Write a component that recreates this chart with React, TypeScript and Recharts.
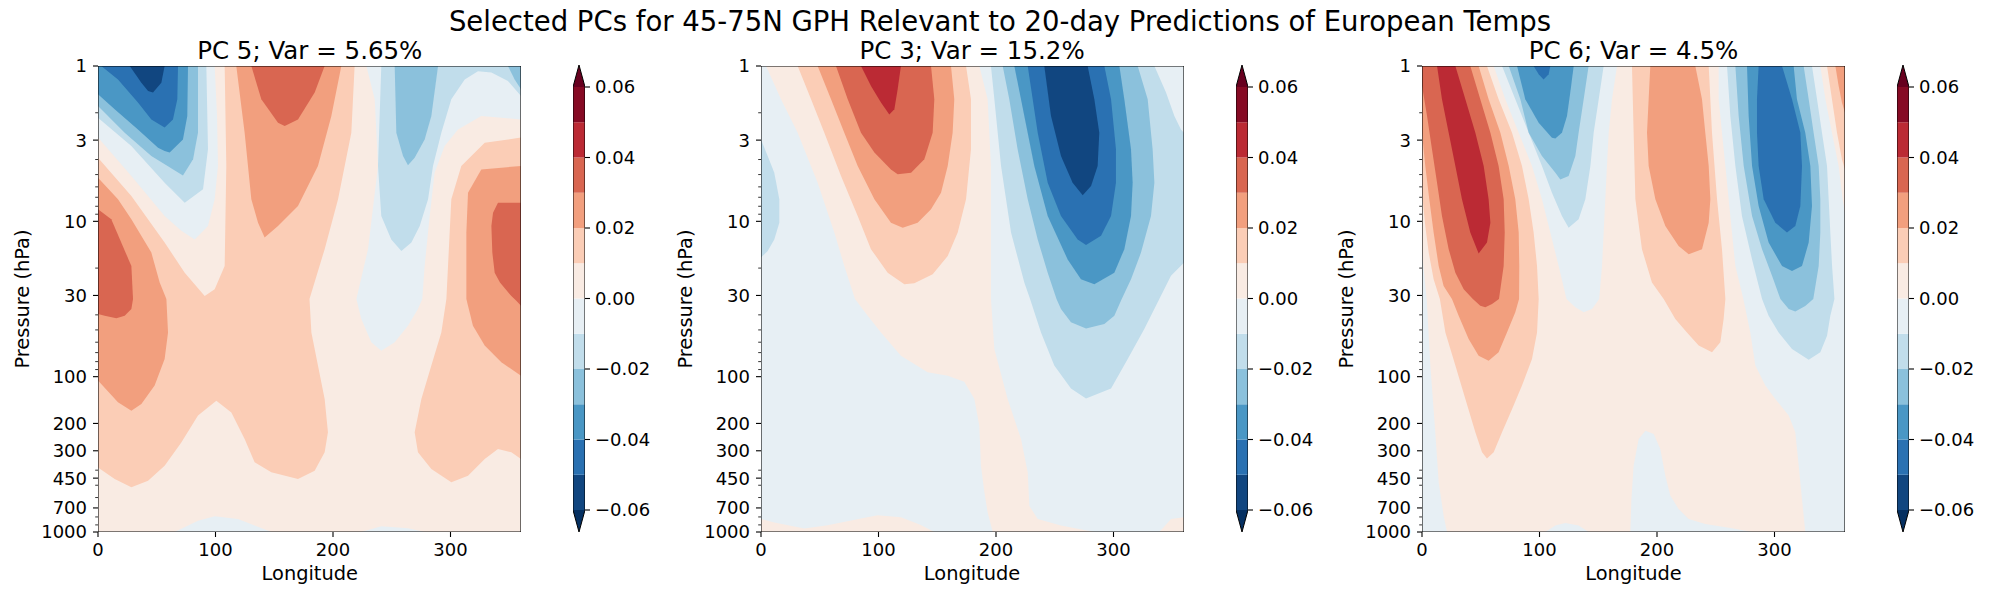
import { Scatter, ScatterChart, XAxis, YAxis } from "recharts";

// ---- data ---------------------------------------------------------------
// Contour levels of the filled plot (RdBu_r, extend both)
const LEVELS = [-0.06, -0.05, -0.04, -0.03, -0.02, -0.01, 0, 0.01, 0.02, 0.03, 0.04, 0.05, 0.06];
const BAND_COLORS = [
  "#114680", "#2a71b2", "#4a97c5", "#8bc1dc", "#c1ddeb", "#e7eff4",
  "#f9ebe3", "#fbcdb6", "#f29f7e", "#d96651", "#bb2a34", "#860a24",
];
const UNDER_COLOR = "#053061";
const OVER_COLOR = "#67001f";
const CBAR_TICKS = [-0.06, -0.04, -0.02, 0, 0.02, 0.04, 0.06];

const LON_TICKS = [0, 100, 200, 300];
const P_MAJOR = [1, 3, 10, 30, 100, 200, 300, 450, 700, 1000];
const P_MINOR = [2, 4, 5, 6, 7, 8, 9, 20, 40, 50, 60, 70, 80, 90, 400, 500, 600, 800, 900];

const TITLES = ["PC 5; Var = 5.65%", "PC 3; Var = 15.2%", "PC 6; Var = 4.5%"];
const SUPTITLE = "Selected PCs for 45-75N GPH Relevant to 20-day Predictions of European Temps";

type Pt = [number, number]; // [longitude, pressure hPa]
type Layer = [number, Pt[]]; // [lower level of the band, region outline]

const FULL_DOMAIN: Pt[] = [[0, 1], [360, 1], [360, 1000], [0, 1000]];

// PC 5: background band 0..0.01; regions are "value below / above" sets
const PC5_BASE = 0;
const PC5_NEG: Layer[] = [
  [-0.01, [[0, 1], [99.3, 1], [101.3, 2.1], [102.1, 4.4], [99.3, 7.21], [93.6, 10.7], [82.3, 13.1], [70.9, 11.5], [56.7, 9.24], [28.4, 5.11], [0, 2.89]]],
  [-0.01, [[228.4, 1], [235.5, 1.64], [238.3, 4.4], [229.8, 15.1], [219.9, 31.6], [224.1, 42.5], [232.6, 60.1], [241.1, 68], [252.5, 60.1], [263.8, 47], [272.3, 36.7], [276, 31.6], [278, 19.4], [282.3, 9.24], [286.5, 4.86], [295, 3.27], [306.4, 2.56], [326.2, 2.1], [360, 2.21], [360, 1]]],
  [-0.01, [[65.2, 1000], [85.1, 845], [99.3, 792], [119.1, 825], [147.5, 1000]]],
  [-0.01, [[224.1, 1000], [241.1, 919], [263.8, 946], [278, 1000]]],
  [-0.02, [[0, 1], [92.2, 1], [93.6, 3.44], [89.4, 6.22], [73.8, 7.59], [56.7, 5.64], [28.4, 3.27], [0, 2.15]]],
  [-0.02, [[241.1, 1], [238.3, 4.4], [241.1, 9.24], [249.6, 13.1], [258.2, 15.5], [266.7, 13.7], [273.8, 10.7], [280.9, 7.21], [285.1, 4.4], [292.2, 2.69], [300.7, 1.64], [312.1, 1.22], [323.4, 1.08], [334.8, 1.1], [348.9, 1.25], [360, 1.56], [360, 1]]],
  [-0.03, [[0, 1], [85.1, 1], [85.1, 2.69], [80.9, 3.99], [72.3, 5.06], [45.4, 3.8], [22.7, 2.69], [0, 1.81]]],
  [-0.03, [[252.5, 1], [253.9, 2.69], [259.6, 3.8], [263.8, 4.36], [269.5, 3.89], [278, 2.97], [283.7, 2.1], [289.4, 1]]],
  [-0.03, [[348.9, 1], [354.6, 1.22], [360, 1.41], [360, 1]]],
  [-0.04, [[0, 1], [76.6, 1], [76, 2.1], [72.3, 2.97], [61, 3.61], [56.7, 3.53], [51.1, 3.36], [34, 2.56], [14.2, 1.9], [0, 1.52]]],
  [-0.05, [[2.8, 1], [68.1, 1], [67.5, 1.64], [63.8, 2.21], [56.7, 2.49], [45.4, 2.21], [34, 1.72], [17, 1.22]]],
  [-0.06, [[27, 1], [56.7, 1], [53.9, 1.28], [46.8, 1.48], [42.6, 1.45], [36.9, 1.28]]],
];
const PC5_POS: Layer[] = [
  [0.01, [[107.8, 1], [109.2, 4.4], [107.8, 19.4], [99.3, 27.4], [90.8, 30.3], [73.8, 21.4], [56.7, 13.7], [28.4, 6.87], [0, 3.89], [0, 384], [14.2, 456], [28.4, 516], [42.6, 467], [56.7, 374], [70.9, 265], [85.1, 178], [100.7, 143], [113.5, 170], [124.8, 252], [133.3, 356], [147.5, 413], [170.2, 456], [184.4, 403], [192.9, 307], [195.7, 228], [192.9, 139], [187.2, 84.9], [181.6, 51.9], [180, 31.6], [192.9, 15.1], [204.3, 7.21], [215.6, 2.69], [218.4, 1]]],
  [0.01, [[360, 2.89], [329.1, 3.12], [309.2, 4.4], [300.7, 7.21], [296.5, 31.6], [292.2, 51.9], [283.7, 84.9], [275.2, 139], [269.5, 228], [272.3, 307], [283.7, 393], [300.7, 479], [314.9, 434], [329.1, 339], [340.4, 292], [351.8, 307], [360, 339]]],
  [0.02, [[0, 5.24], [17, 7.21], [28.4, 9.71], [45.4, 15.9], [52.5, 24.8], [58.2, 31.6], [59.6, 51.9], [56.7, 77], [48.2, 114], [36.9, 150], [28.4, 166], [17, 146], [0, 106]]],
  [0.02, [[117.7, 1], [124.8, 2.69], [130.5, 7.21], [136.2, 10.2], [141.8, 12.7], [153.2, 10.7], [170.2, 7.96], [187.2, 4.4], [198.6, 2.1], [207.1, 1]]],
  [0.02, [[360, 4.4], [326.2, 4.63], [314.9, 6.54], [313.5, 11.8], [313.5, 31.6], [319.1, 47], [329.1, 63.1], [343.3, 80.9], [360, 98.6]]],
  [0.03, [[0, 8.37], [11.3, 9.71], [28.4, 19.4], [29.8, 31.6], [28.4, 36.7], [22.7, 40.5], [15.6, 42.1], [5.7, 40.5], [0, 39.5]]],
  [0.03, [[130.5, 1], [139, 1.64], [153.2, 2.32], [158.9, 2.43], [170.2, 2.21], [184.4, 1.48], [192.9, 1]]],
  [0.03, [[360, 7.59], [340.4, 7.59], [336.2, 8.8], [334.8, 10.7], [335.6, 15.9], [337.6, 21.4], [342.1, 24.8], [351.8, 30.3], [356, 32.4], [360, 34.9]]],
];

// PC 3: background band -0.01..0
const PC3_BASE = -0.01;
const PC3_POS: Layer[] = [
  [0, [[4.3, 1], [17, 1.64], [31.2, 2.69], [48.2, 5.64], [62.4, 11.8], [70.9, 19.4], [80, 31.6], [90.8, 40.5], [102.1, 51.9], [119.1, 73.3], [141.8, 93.8], [158.9, 98.6], [173, 108], [181.6, 139], [185.8, 207], [187.2, 374], [190.1, 555], [192.9, 749], [197.2, 1000], [283.7, 1000], [255.3, 909], [235.5, 825], [228.4, 679], [227, 413], [221.3, 252], [209.9, 139], [198.6, 66.4], [195.7, 31.6], [195.7, 4.4], [192.9, 1.64], [185.8, 1]]],
  [0, [[0, 825], [11.3, 870], [36.9, 950], [56.7, 905], [85.1, 820], [99.3, 779], [119.1, 805], [136, 900], [147.5, 1000], [0, 1000]]],
  [0, [[339, 1000], [349, 825], [360, 805], [360, 1000]]],
  [0.01, [[31.2, 1], [42.6, 1.64], [53.9, 2.69], [68.1, 5.11], [82.3, 9.24], [93.6, 15.1], [107.8, 21.4], [122, 25.4], [130.5, 25], [146.1, 21.9], [158.9, 16.7], [167.4, 11.8], [174.5, 7.21], [178.7, 3.44], [178.7, 1.64], [174.5, 1]]],
  [0.02, [[48.2, 1], [59.6, 1.64], [70.9, 2.69], [82.3, 4.4], [96.5, 7.21], [110.6, 10.2], [120.6, 11], [133.3, 10.2], [144.7, 8.37], [153.2, 6.54], [158.9, 4.4], [163.1, 2.69], [164.5, 1.64], [161.7, 1]]],
  [0.03, [[63.8, 1], [73.8, 1.64], [85.1, 2.69], [96.5, 3.61], [110.6, 4.63], [116.3, 4.98], [127.7, 4.86], [139, 3.99], [146.1, 2.69], [147.5, 1.64], [144.7, 1]]],
  [0.04, [[85.1, 1], [93.6, 1.345], [102.1, 1.72], [109.2, 2.05], [113.5, 1.9], [116.3, 1.41], [119.1, 1]]],
];
const PC3_NEG: Layer[] = [
  [-0.02, [[0, 2.97], [5.7, 3.8], [11.3, 4.86], [15.6, 7.21], [15.6, 10.2], [11.3, 13.1], [5.7, 15.5], [0, 17.1]]],
  [-0.02, [[195.7, 1], [198.6, 1.64], [204.3, 4.4], [212.8, 11.8], [224.1, 24.8], [229, 31.6], [238.3, 51.9], [249.6, 84.9], [263.8, 119], [276.6, 138], [297.9, 119], [312.1, 77], [326.2, 49.4], [339, 31.6], [348.9, 22.4], [360, 18.5], [360, 2.69], [357.4, 2.56], [351.8, 2.1], [344.7, 1.48], [334.8, 1]]],
  [-0.03, [[205.7, 1], [211.3, 1.64], [218.4, 3.44], [227, 7.21], [235.5, 13.1], [244, 21.4], [251.5, 31.6], [255.3, 36.7], [263.8, 44.7], [276.6, 48.9], [292.2, 45.8], [300.7, 40.5], [307, 31.6], [314.9, 23.6], [323.4, 15.9], [331.9, 9.24], [334.8, 5.64], [333.3, 3.44], [329.1, 1.64], [320.6, 1]]],
  [-0.04, [[215.6, 1], [224.1, 2.1], [232.6, 4.4], [244, 9.24], [261, 17.6], [272.3, 23.6], [283.7, 25.4], [300.7, 21.4], [309.2, 15.1], [314.9, 9.24], [316.3, 5.64], [314.9, 3.44], [309.2, 1.64], [305, 1]]],
  [-0.05, [[227, 1], [235.5, 2.69], [244, 5.64], [255.3, 9.24], [269.5, 13.1], [276.6, 14.2], [289.4, 12.4], [297.9, 9.24], [302.1, 5.64], [302.1, 3.44], [297.9, 1.64], [292.2, 1]]],
  [-0.06, [[241.1, 1], [246.8, 2.1], [255.3, 3.8], [265.2, 5.64], [273.8, 6.8], [280.9, 5.92], [286.5, 4.4], [287.9, 2.69], [283.7, 1.64], [278, 1]]],
];

// PC 6: background band 0..0.01
const PC6_BASE = 0;
const PC6_NEG: Layer[] = [
  [-0.01, [[0, 15.9], [2.3, 23.6], [4, 31.6], [7.1, 84.9], [11.3, 228], [14.2, 479], [18.4, 785], [21.3, 1000], [0, 1000]]],
  [-0.01, [[61, 1], [70.9, 1.64], [82.3, 2.69], [93.6, 4.4], [102.1, 7.21], [109.2, 11.8], [116.3, 19.4], [123, 31.6], [130.5, 35.8], [137.6, 38.5], [144.7, 36.7], [150.8, 31.6], [153.2, 19.4], [154.6, 11.8], [156, 7.21], [157.4, 4.4], [158.9, 2.69], [161.7, 1.64], [166, 1]]],
  [-0.01, [[252.5, 1], [252.5, 1.64], [255.3, 2.69], [258.2, 4.4], [261, 7.21], [263.8, 11.8], [266.7, 19.4], [273.5, 31.6], [279.4, 51.9], [283.7, 84.9], [292.2, 114], [300.7, 139], [312.1, 178], [317.7, 228], [320.6, 374], [323.4, 615], [326.2, 1000], [360, 1000], [360, 8.8], [358, 7.21], [354.6, 4.4], [348.9, 2.69], [343.3, 1.64], [339, 1]]],
  [-0.01, [[177.3, 1000], [178.2, 615], [180.1, 374], [184.4, 252], [190.1, 223], [197.2, 234], [202.8, 292], [207.1, 434], [211.3, 583], [218.4, 711], [227, 825], [241.1, 889], [263.8, 946], [280.9, 1000]]],
  [-0.01, [[105, 1000], [113.5, 909], [122, 875], [133.3, 909], [141.8, 1000]]],
  [-0.02, [[68.1, 1], [79.4, 1.64], [90.8, 2.69], [102.1, 4.4], [110.6, 6.54], [119.1, 9.24], [124.8, 11], [133.3, 9.71], [139, 7.21], [143.3, 4.4], [146.1, 2.69], [150.4, 1.64], [154.6, 1]]],
  [-0.02, [[259.6, 1], [262.4, 2.1], [266.7, 4.4], [272.3, 9.24], [280.9, 17.6], [289.4, 31.6], [295, 40.5], [303.5, 51.9], [314.9, 66.4], [329.1, 77.7], [339, 69.7], [344.7, 54.5], [347.5, 40.5], [351, 31.6], [349, 19.4], [347.5, 11.8], [346.1, 7.21], [344.7, 4.4], [340.4, 2.69], [336.2, 1.64], [331.9, 1]]],
  [-0.03, [[73.8, 1], [83.7, 1.64], [90.8, 2.69], [102.1, 3.8], [113.5, 4.86], [117.7, 5.37], [124.8, 5.11], [130.5, 3.8], [133.3, 2.69], [137.6, 1.64], [141.8, 1]]],
  [-0.03, [[266.7, 1], [269.5, 2.1], [273.8, 4.4], [280.9, 9.24], [289.4, 15.1], [297.9, 22.4], [305, 31.6], [312.1, 36.7], [317.7, 38.1], [326.2, 35.1], [333, 31.6], [337.6, 19.4], [339, 11.8], [339, 7.21], [337.6, 4.4], [333.3, 2.69], [329.1, 1.64], [324.8, 1]]],
  [-0.04, [[80.9, 1], [87.9, 1.64], [99.3, 2.32], [110.6, 2.9], [113.5, 2.93], [119.1, 2.69], [123.4, 2.1], [126.2, 1.48], [129.1, 1]]],
  [-0.04, [[276.6, 1], [278, 2.1], [280.9, 4.4], [286.5, 7.96], [295, 13.7], [306.4, 19.4], [314.9, 20.9], [323.4, 19.4], [329.1, 13.7], [331.9, 7.96], [330.5, 4.4], [326.2, 2.69], [319.1, 1.64], [316.3, 1]]],
  [-0.05, [[95, 1], [99.3, 1.13], [103.5, 1.22], [107.8, 1.13], [109.2, 1]]],
  [-0.05, [[286.5, 1], [285.1, 1.64], [285.1, 2.69], [286.5, 4.4], [290.8, 7.21], [300.7, 10.2], [310.6, 11.8], [317.7, 10.7], [322, 7.96], [323.4, 4.4], [322, 2.69], [314.9, 1.64], [306.4, 1]]],
];
const PC6_POS: Layer[] = [
  [0.01, [[0, 1], [55.3, 1], [65.2, 1.64], [76.6, 2.69], [85.1, 4.4], [90.8, 7.21], [95, 11.8], [97.9, 19.4], [99.3, 31.6], [97.9, 51.9], [93.6, 77], [85.1, 114], [76.6, 162], [68.1, 228], [61, 307], [55.3, 336], [51.1, 307], [45.4, 228], [36.9, 139], [28.4, 84.9], [19.9, 51.9], [15.2, 31.6], [9.9, 23.6], [5.7, 15.9], [2.8, 10.7], [0, 6.54]]],
  [0.01, [[178.7, 1], [180.1, 2.69], [181.6, 7.21], [187.2, 15.1], [195.7, 24.8], [205.7, 31.6], [215.6, 42.5], [225.5, 51.9], [235.5, 63.1], [246.8, 69.7], [253.9, 60.1], [256.7, 42.5], [258.2, 31.6], [255.3, 15.1], [251.1, 7.21], [246.8, 2.69], [244, 1]]],
  [0.01, [[344.7, 1], [348.9, 1.64], [353.2, 2.69], [357.4, 3.99], [360, 4.63], [360, 1]]],
  [0.02, [[0, 1], [48.2, 1], [56.7, 1.64], [66.7, 2.69], [73.8, 4.4], [79.4, 7.21], [82.3, 11.8], [82.8, 19.4], [82.6, 31.6], [79.4, 38.5], [72.3, 51.9], [65.2, 69.7], [56.7, 78.9], [48.2, 73.3], [39.7, 57.2], [31.2, 40.5], [25.5, 31.6], [18.4, 26.1], [14.2, 19.4], [9.9, 11.8], [6.2, 7.21], [2.8, 4.4], [0, 2.69]]],
  [0.02, [[194.3, 1], [192.9, 1.64], [191.5, 2.69], [192.9, 4.4], [198.6, 7.21], [207.1, 10.7], [218.4, 14.4], [227, 16.3], [238.3, 15.1], [244, 10.2], [245.4, 7.21], [244, 4.4], [241.1, 2.69], [238.3, 1.64], [232.6, 1]]],
  [0.02, [[351.8, 1], [354.6, 1.345], [357.4, 1.72], [360, 2], [360, 1]]],
  [0.03, [[0, 1], [41.1, 1], [49.6, 1.64], [58.2, 2.69], [65.2, 4.4], [69.5, 7.21], [70.4, 11.8], [69.5, 19.4], [65.5, 31.6], [59.6, 34.1], [53.9, 35.8], [49.6, 34.9], [43.3, 31.6], [35.5, 27.4], [28.4, 21.4], [22.7, 15.1], [17, 9.24], [12.8, 5.64], [8.5, 3.44], [4.3, 2.1], [0, 1.34]]],
  [0.04, [[12.8, 1], [17, 1.64], [22.7, 2.69], [28.4, 4.4], [34, 7.21], [41.1, 11.8], [48.2, 16.1], [55.3, 13.7], [58.2, 10.2], [56.7, 7.21], [52.5, 4.4], [45.4, 2.69], [36.9, 1.64], [28.4, 1]]],
];

// ---- layout -------------------------------------------------------------
const FONT = "'DejaVu Sans', sans-serif";
const FIG_W = 2000;
const FIG_H = 600;
const PLOT_TOP = 66;
const PLOT_BOTTOM = 532;
const PLOT_W = 423;
const Y_AXIS_W = 90;
const RIGHT_PAD = 10;
const PANEL_LEFTS = [98.3, 760.6, 1422];
const CB_OFFSET = 475;
const CB_W = 12;
const CB_AXIS_W = 80;
const CB_TOP = 65;
const CB_EXT = 0.06 + 0.12 * 0.052;

const PANELS = [
  { base: PC5_BASE, layers: [...PC5_NEG, ...PC5_POS] },
  { base: PC3_BASE, layers: [...PC3_POS, ...PC3_NEG] },
  { base: PC6_BASE, layers: [...PC6_NEG, ...PC6_POS] },
];

const colorOf = (lo: number) => BAND_COLORS[Math.round((lo - LEVELS[0]) * 100)];

const noMarker = () => <g />;

function polygon(key: string, pts: Pt[], fill: string, stroke = "none", strokeWidth = 0) {
  return (
    <Scatter
      key={key}
      data={pts.map(([x, y]) => ({ x, y }))}
      line={{ fill, stroke, strokeWidth }}
      lineJointType="linearClosed"
      shape={noMarker}
      legendType="none"
      isAnimationActive={false}
    />
  );
}

function PressureTick(props: any) {
  const { x, y, payload } = props;
  const major = P_MAJOR.includes(payload.value);
  return (
    <g>
      <line x1={x - (major ? 5 : 2.8)} x2={x} y1={y} y2={y} stroke="#000" strokeWidth={major ? 1.1 : 0.8} />
      {major && (
        <text x={x - 11} y={y} dy="0.36em" textAnchor="end" fontSize={18} fontFamily={FONT} fill="#000">
          {payload.value}
        </text>
      )}
    </g>
  );
}

function Panel({ plotLeft, base, layers }: { plotLeft: number; base: number; layers: Layer[] }) {
  return (
    <div style={{ position: "absolute", left: plotLeft - Y_AXIS_W, top: 0 }}>
      <ScatterChart
        width={Y_AXIS_W + PLOT_W + RIGHT_PAD}
        height={FIG_H}
        margin={{ top: PLOT_TOP, right: RIGHT_PAD, bottom: 0, left: 0 }}
      >
        <XAxis
          type="number"
          dataKey="x"
          domain={[0, 360]}
          ticks={LON_TICKS}
          interval={0}
          allowDataOverflow
          axisLine={false}
          tickSize={5}
          tickMargin={6}
          tickLine={{ stroke: "#000", strokeWidth: 1.1 }}
          tick={{ fill: "#000", fontSize: 18, fontFamily: FONT }}
          height={FIG_H - PLOT_BOTTOM}
        />
        <YAxis
          type="number"
          dataKey="y"
          scale="log"
          domain={[1, 1000]}
          reversed
          allowDataOverflow
          ticks={[...P_MAJOR, ...P_MINOR]}
          interval={0}
          axisLine={false}
          tickLine={false}
          tickSize={0}
          tickMargin={0}
          tick={PressureTick}
          width={Y_AXIS_W}
        />
        {polygon("base", FULL_DOMAIN, colorOf(base))}
        {layers.map(([lo, pts], i) => polygon(`r${i}`, pts, colorOf(lo)))}
        {polygon("frame", FULL_DOMAIN, "none", "#000", 1.1)}
      </ScatterChart>
    </div>
  );
}

function Colorbar({ left }: { left: number }) {
  const bands = BAND_COLORS.map((c, k) =>
    polygon(`b${k}`, [[0, LEVELS[k]], [1, LEVELS[k]], [1, LEVELS[k + 1]], [0, LEVELS[k + 1]]], c),
  );
  const lo = LEVELS[0];
  const hi = LEVELS[LEVELS.length - 1];
  return (
    <div style={{ position: "absolute", left, top: 0 }}>
      <ScatterChart
        width={CB_W + CB_AXIS_W}
        height={FIG_H}
        margin={{ top: CB_TOP, right: 0, bottom: FIG_H - PLOT_BOTTOM, left: 0 }}
      >
        <XAxis type="number" dataKey="x" domain={[0, 1]} hide allowDataOverflow />
        <YAxis
          type="number"
          dataKey="y"
          orientation="right"
          domain={[-CB_EXT, CB_EXT]}
          allowDataOverflow
          ticks={CBAR_TICKS}
          interval={0}
          axisLine={false}
          tickSize={5}
          tickMargin={5}
          tickLine={{ stroke: "#000", strokeWidth: 1.1 }}
          tick={{ fill: "#000", fontSize: 18, fontFamily: FONT }}
          tickFormatter={(v: number) => (v < 0 ? "\u2212" : "") + Math.abs(v).toFixed(2)}
          width={CB_AXIS_W}
        />
        {bands}
        {polygon("under", [[0, lo], [1, lo], [0.5, -CB_EXT]], UNDER_COLOR)}
        {polygon("over", [[0, hi], [1, hi], [0.5, CB_EXT]], OVER_COLOR)}
        {polygon(
          "outline",
          [[0, lo], [0.5, -CB_EXT], [1, lo], [1, hi], [0.5, CB_EXT], [0, hi]],
          "none",
          "#000",
          1,
        )}
      </ScatterChart>
    </div>
  );
}

export default function App() {
  const midY = (PLOT_TOP + PLOT_BOTTOM) / 2;
  return (
    <div style={{ position: "absolute", left: 0, top: 0, width: FIG_W, height: FIG_H, background: "#fff" }}>
      {PANELS.map((p, i) => (
        <Panel key={i} plotLeft={PANEL_LEFTS[i]} base={p.base} layers={p.layers} />
      ))}
      {PANEL_LEFTS.map((l, i) => (
        <Colorbar key={i} left={l + CB_OFFSET} />
      ))}
      <svg
        width={FIG_W}
        height={FIG_H}
        style={{ position: "absolute", left: 0, top: 0, pointerEvents: "none" }}
        fontFamily={FONT}
      >
        <text x={FIG_W / 2} y={31} textAnchor="middle" fontSize={27.5} fill="#000">
          {SUPTITLE}
        </text>
        {PANEL_LEFTS.map((l, i) => (
          <g key={i}>
            <text x={l + PLOT_W / 2} y={58.5} textAnchor="middle" fontSize={24.5} fill="#000">
              {TITLES[i]}
            </text>
            <text x={l + PLOT_W / 2} y={580} textAnchor="middle" fontSize={19.4} fill="#000">
              Longitude
            </text>
            <text
              x={l - 69}
              y={midY}
              textAnchor="middle"
              fontSize={19.4}
              fill="#000"
              transform={`rotate(-90 ${l - 69} ${midY})`}
            >
              Pressure (hPa)
            </text>
          </g>
        ))}
      </svg>
    </div>
  );
}
